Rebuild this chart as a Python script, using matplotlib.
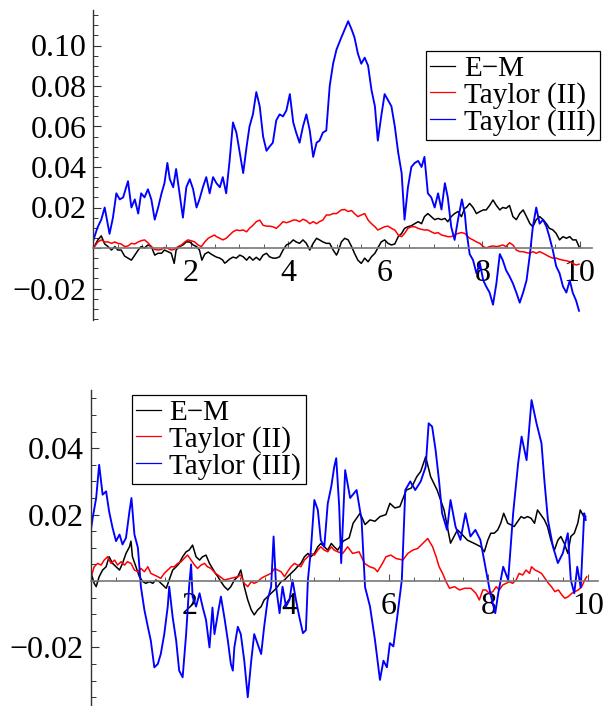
import matplotlib
matplotlib.use("Agg")
import matplotlib.pyplot as plt
from matplotlib.ticker import MultipleLocator, FuncFormatter, FixedLocator

plt.rcParams['font.family'] = ['Liberation Serif', 'DejaVu Serif']
plt.rcParams['mathtext.fontset'] = 'stix'

labels = ["E\u2212M", "Taylor (II)", "Taylor (III)"]
colors = ["black", "red", "blue"]

# ---------------- top panel ----------------
top_em_t = [0, 0.09, 0.16, 0.23, 0.30, 0.37, 0.44, 0.50, 0.57, 0.64, 0.71, 0.78, 0.85, 0.92, 0.98, 1.05, 1.12, 1.19, 1.26, 1.33,
            1.40, 1.46, 1.53, 1.60, 1.66, 1.70, 1.77, 1.84, 1.91, 1.98, 2.05, 2.12, 2.18, 2.23, 2.29, 2.36, 2.42, 2.49, 2.53, 2.60,
            2.66, 2.70, 2.73, 2.80, 2.87, 2.94, 3.01, 3.08, 3.15, 3.21, 3.28, 3.35, 3.42, 3.49, 3.56, 3.62, 3.69, 3.76, 3.83, 3.90,
            3.97, 4.04, 4.11, 4.17, 4.24, 4.31, 4.38, 4.45, 4.52, 4.59, 4.65, 4.72, 4.79, 4.86, 4.93, 5.00, 5.03, 5.10, 5.17, 5.24,
            5.31, 5.37, 5.44, 5.51, 5.58, 5.65, 5.72, 5.79, 5.85, 5.92, 5.99, 6.06, 6.13, 6.20, 6.27, 6.34, 6.40, 6.47, 6.54, 6.61,
            6.68, 6.75, 6.81, 6.88, 6.95, 7.02, 7.09, 7.16, 7.23, 7.29, 7.36, 7.43, 7.50, 7.57, 7.64, 7.67, 7.74, 7.81, 7.88, 7.95,
            8.02, 8.08, 8.15, 8.22, 8.29, 8.36, 8.42, 8.49, 8.56, 8.63, 8.70, 8.77, 8.84, 8.91, 8.98, 9.04, 9.11, 9.18, 9.25, 9.32,
            9.38, 9.45, 9.52, 9.59, 9.66, 9.73, 9.80, 9.86, 9.93, 9.99]
top_em_v = [0, 0.004, 0.006, 0.002, 0.0007, -0.001, 0.0007, -0.001, -0.001, -0.004, -0.005, -0.006, -0.0035, -0.001, 0.0007, 0, 0.0015, 0.0007, -0.0035, -0.0026,
            -0.0026, -0.001, -0.0018, -0.0026, -0.0076, -0.001, 0.0007, 0.0015, 0.003, 0.003, 0.0015, 0.0007, -0.001, -0.006, -0.003, -0.002, -0.003, -0.004, -0.0045, -0.005,
            -0.006, -0.0075, -0.007, -0.0055, -0.0045, -0.005, -0.0035, -0.0043, -0.006, -0.0043, -0.006, -0.0046, -0.006, -0.0035, -0.0026, -0.0043, -0.005, -0.005, -0.0043, -0.001,
            0.0015, 0.0023, 0.004, 0.003, 0.0023, 0.004, 0.0023, -0.001, 0.0023, 0.0048, 0.004, 0.003, 0.0023, 0.0023, -0.001, -0.0035, -0.002, 0.003, 0.0048, 0.004,
            0.0007, -0.0026, -0.006, -0.0076, -0.005, -0.0068, -0.0043, -0.0026, 0, 0.003, 0.004, 0.0023, 0.0015, 0.002, 0.0056, 0.0072, 0.0097, 0.0105, 0.011, 0.012,
            0.013, 0.012, 0.0155, 0.017, 0.0155, 0.014, 0.0146, 0.014, 0.0146, 0.013, 0.0155, 0.017, 0.018, 0.0155, 0.0196, 0.020, 0.022, 0.020, 0.017, 0.018,
            0.0188, 0.0188, 0.021, 0.0237, 0.021, 0.0188, 0.020, 0.0196, 0.021, 0.0155, 0.014, 0.017, 0.0188, 0.0155, 0.012, 0.0105, 0.014, 0.0155, 0.014, 0.012,
            0.0097, 0.009, 0.0072, 0.004, 0.0056, 0.0048, 0.0056, 0.004, 0.004, 0.0007]

top_t2_t = [0, 0.09, 0.16, 0.23, 0.30, 0.37, 0.44, 0.50, 0.57, 0.64, 0.71, 0.78, 0.85, 0.92, 0.98, 1.05, 1.12, 1.19, 1.26, 1.33,
            1.40, 1.46, 1.53, 1.60, 1.66, 1.74, 1.81, 1.88, 1.94, 2.01, 2.08, 2.15, 2.22, 2.29, 2.36, 2.42, 2.49, 2.53, 2.60, 2.66,
            2.73, 2.80, 2.87, 2.94, 3.01, 3.08, 3.15, 3.21, 3.28, 3.35, 3.42, 3.49, 3.56, 3.62, 3.69, 3.76, 3.83, 3.90, 3.97, 4.04,
            4.11, 4.17, 4.24, 4.31, 4.38, 4.45, 4.52, 4.59, 4.65, 4.72, 4.79, 4.86, 4.93, 5.00, 5.10, 5.17, 5.24, 5.31, 5.37, 5.44,
            5.51, 5.58, 5.65, 5.72, 5.79, 5.85, 5.92, 5.99, 6.06, 6.13, 6.20, 6.27, 6.34, 6.40, 6.47, 6.54, 6.61, 6.68, 6.75, 6.81,
            6.88, 6.95, 7.02, 7.09, 7.16, 7.23, 7.29, 7.36, 7.43, 7.50, 7.57, 7.64, 7.67, 7.74, 7.81, 7.88, 7.95, 8.02, 8.08, 8.15,
            8.22, 8.29, 8.36, 8.42, 8.49, 8.56, 8.63, 8.70, 8.77, 8.84, 8.91, 8.98, 9.04, 9.11, 9.18, 9.25, 9.32, 9.38, 9.45, 9.52,
            9.59, 9.66, 9.73, 9.80, 9.86, 9.93, 9.99]
top_t2_v = [0, 0.003, 0.004, 0.003, 0.003, 0.0023, 0.003, 0.0023, 0.002, 0.0007, 0.001, 0.0023, 0.002, 0.003, 0.0036, 0.004, 0.0026, 0.0007, -0.0007, -0.001,
            -0.0007, 0.0003, -0.0002, -0.001, -0.0007, 0.0007, 0.0015, 0.003, 0.004, 0.0036, 0.003, 0.0015, 0.0007, 0.003, 0.0048, 0.0056, 0.0064, 0.0056, 0.0048, 0.004,
            0.0048, 0.0064, 0.008, 0.0089, 0.0086, 0.0089, 0.008, 0.0097, 0.0112, 0.013, 0.0138, 0.0112, 0.0108, 0.0108, 0.0105, 0.0097, 0.0112, 0.013, 0.0125, 0.013,
            0.0138, 0.0138, 0.013, 0.0142, 0.0135, 0.012, 0.013, 0.012, 0.013, 0.0138, 0.0163, 0.0163, 0.017, 0.017, 0.0188, 0.019, 0.018, 0.0185, 0.017, 0.0155,
            0.0163, 0.017, 0.0138, 0.012, 0.0105, 0.0089, 0.0097, 0.0105, 0.0108, 0.0097, 0.0089, 0.0064, 0.0056, 0.0072, 0.0097, 0.0105, 0.0105, 0.0097, 0.0092, 0.0089,
            0.0089, 0.008, 0.0072, 0.0076, 0.0064, 0.006, 0.0056, 0.0056, 0.0064, 0.0072, 0.0076, 0.0072, 0.0064, 0.0048, 0.004, 0.003, 0.0023, 0.0007, 0, 0.0007,
            0.001, 0.0007, 0.001, 0.0015, 0.0007, 0.0026, 0.0015, -0.001, -0.0018, -0.0018, -0.0023, -0.0026, -0.0018, -0.0026, -0.0018, -0.0026, -0.0035, -0.0043, -0.005, -0.005,
            -0.0056, -0.006, -0.0063, -0.0068, -0.0076, -0.0084, -0.008]

top_t3_t = [0, 0.08, 0.16, 0.23, 0.33, 0.40, 0.47, 0.54, 0.61, 0.71, 0.78, 0.85, 0.92, 0.98, 1.05, 1.12, 1.19, 1.26, 1.33, 1.40,
            1.46, 1.52, 1.57, 1.64, 1.70, 1.77, 1.84, 1.91, 1.98, 2.05, 2.12, 2.18, 2.25, 2.32, 2.39, 2.46, 2.53, 2.60, 2.66, 2.73,
            2.80, 2.87, 2.94, 3.01, 3.08, 3.15, 3.21, 3.28, 3.35, 3.42, 3.49, 3.56, 3.62, 3.69, 3.76, 3.83, 3.90, 3.97, 4.04, 4.11,
            4.17, 4.24, 4.31, 4.38, 4.45, 4.52, 4.59, 4.65, 4.72, 4.79, 4.86, 4.93, 5.00, 5.10, 5.17, 5.24, 5.31, 5.37, 5.44, 5.51,
            5.58, 5.65, 5.72, 5.79, 5.85, 5.92, 5.99, 6.06, 6.13, 6.20, 6.27, 6.34, 6.40, 6.47, 6.54, 6.61, 6.68, 6.75, 6.81, 6.88,
            6.95, 7.02, 7.09, 7.16, 7.23, 7.29, 7.36, 7.43, 7.50, 7.58, 7.64, 7.67, 7.74, 7.81, 7.88, 7.95, 8.02, 8.08, 8.15, 8.22,
            8.29, 8.36, 8.42, 8.49, 8.56, 8.63, 8.70, 8.77, 8.84, 8.91, 8.98, 9.04, 9.11, 9.18, 9.25, 9.32, 9.38, 9.45, 9.52, 9.59,
            9.66, 9.73, 9.80, 9.86, 9.93, 9.99]
top_t3_v = [0.004, 0.010, 0.014, 0.020, 0.007, 0.015, 0.027, 0.024, 0.025, 0.033, 0.020, 0.024, 0.017, 0.027, 0.025, 0.029, 0.024, 0.014, 0.020, 0.027,
            0.032, 0.042, 0.034, 0.030, 0.039, 0.027, 0.015, 0.030, 0.034, 0.029, 0.020, 0.024, 0.030, 0.035, 0.027, 0.035, 0.032, 0.030, 0.035, 0.027,
            0.043, 0.062, 0.057, 0.047, 0.037, 0.050, 0.060, 0.066, 0.077, 0.070, 0.055, 0.048, 0.050, 0.052, 0.063, 0.066, 0.065, 0.068, 0.076, 0.062,
            0.057, 0.052, 0.060, 0.066, 0.058, 0.045, 0.052, 0.053, 0.057, 0.058, 0.080, 0.091, 0.098, 0.104, 0.108, 0.112, 0.108, 0.104, 0.096, 0.091,
            0.094, 0.090, 0.078, 0.070, 0.053, 0.065, 0.076, 0.073, 0.070, 0.060, 0.047, 0.037, 0.014, 0.030, 0.040, 0.042, 0.043, 0.040, 0.045, 0.027,
            0.025, 0.020, 0.027, 0.019, 0.032, 0.025, 0.0105, 0.004, 0.014, 0.024, 0.017, 0.009, -0.003, -0.006, -0.0125, -0.0076, -0.016, -0.019, -0.022, -0.028,
            -0.0175, -0.003, -0.006, -0.011, -0.014, -0.0175, -0.022, -0.027, -0.022, -0.016, -0.003, 0.0105, 0.020, 0.012, 0.014, 0.0105, 0.0056, -0.001, -0.009, -0.0125,
            -0.019, -0.022, -0.016, -0.022, -0.026, -0.031]

# ---------------- bottom panel ----------------
bot_em_t = [0.01, 0.07, 0.11, 0.17, 0.24, 0.31, 0.37, 0.44, 0.51, 0.58, 0.64, 0.71, 0.78, 0.81, 0.84, 0.91, 0.98, 1.05, 1.11, 1.18,
            1.25, 1.31, 1.38, 1.45, 1.52, 1.58, 1.65, 1.72, 1.78, 1.85, 1.92, 1.98, 2.05, 2.12, 2.19, 2.25, 2.32, 2.39, 2.45, 2.51,
            2.56, 2.62, 2.69, 2.76, 2.82, 2.89, 2.96, 3.02, 3.09, 3.16, 3.23, 3.29, 3.36, 3.43, 3.49, 3.56, 3.63, 3.70, 3.76, 3.83,
            3.90, 3.96, 4.03, 4.10, 4.16, 4.23, 4.30, 4.37, 4.43, 4.50, 4.57, 4.63, 4.70, 4.77, 4.84, 4.90, 4.97, 5.08, 5.20, 5.28,
            5.42, 5.52, 5.62, 5.72, 5.82, 5.94, 6.02, 6.12, 6.22, 6.35, 6.45, 6.56, 6.64, 6.74, 6.84, 6.97, 7.11, 7.24, 7.38, 7.45,
            7.58, 7.72, 7.85, 7.92, 7.99, 8.05, 8.12, 8.19, 8.25, 8.31, 8.39, 8.46, 8.52, 8.59, 8.66, 8.72, 8.79, 8.86, 8.93, 8.99,
            9.06, 9.13, 9.19, 9.26, 9.33, 9.40, 9.46, 9.53, 9.60, 9.66, 9.73, 9.80, 9.85, 9.92, 9.96]
bot_em_v = [0.0023, -0.0007, -0.0017, 0.0013, 0.0033, 0.0043, 0.0073, 0.0053, 0.0043, 0.0033, 0.0053, 0.0083, 0.0103, 0.012, 0.0073, 0.0043, 0.0013, -0.0002, -0.0007, -0.0002,
            -0.0007, 0.0003, -0.0002, -0.0012, -0.0022, 0.0003, 0.0033, 0.0043, 0.0053, 0.0073, 0.0088, 0.0093, 0.0108, 0.0073, 0.0063, 0.0073, 0.0078, 0.0053, 0.0038, 0.0023,
            0.0013, -0.0002, -0.0017, -0.0027, -0.0017, 0.0003, 0.0013, 0.0033, -0.0017, -0.0057, -0.0087, -0.0102, -0.0087, -0.0077, -0.0057, -0.0047, -0.0037, -0.0027, -0.0017, -0.0002,
            0.0003, 0.0013, 0.0023, 0.0033, 0.0043, 0.0053, 0.0073, 0.0083, 0.0073, 0.0083, 0.0103, 0.0113, 0.0103, 0.0093, 0.0113, 0.0103, 0.0093, 0.012, 0.013, 0.0174,
            0.0204, 0.017, 0.0184, 0.018, 0.0194, 0.020, 0.0234, 0.022, 0.0224, 0.0274, 0.028, 0.0314, 0.033, 0.0374, 0.0314, 0.0274, 0.0214, 0.0114, 0.0154, 0.0144,
            0.0123, 0.0113, 0.0103, 0.0088, 0.0123, 0.0144, 0.0144, 0.0154, 0.0174, 0.0204, 0.0174, 0.0169, 0.0164, 0.0179, 0.0194, 0.0189, 0.0194, 0.0189, 0.0174, 0.0214,
            0.0199, 0.0184, 0.0164, 0.0123, 0.0093, 0.0123, 0.0134, 0.0113, 0.0083, 0.0134, 0.0144, 0.0174, 0.0214, 0.0194, 0.0194]

bot_t2_t = [0.01, 0.07, 0.14, 0.21, 0.27, 0.34, 0.41, 0.48, 0.54, 0.61, 0.68, 0.74, 0.81, 0.88, 0.95, 1.01, 1.08, 1.15, 1.21, 1.28,
            1.35, 1.41, 1.48, 1.55, 1.62, 1.68, 1.75, 1.82, 1.88, 1.95, 2.02, 2.09, 2.15, 2.22, 2.29, 2.35, 2.42, 2.51, 2.56, 2.69,
            2.82, 2.96, 3.02, 3.09, 3.16, 3.23, 3.29, 3.36, 3.43, 3.49, 3.56, 3.63, 3.70, 3.76, 3.83, 3.90, 3.96, 4.03, 4.10, 4.16,
            4.23, 4.30, 4.37, 4.43, 4.50, 4.57, 4.63, 4.70, 4.77, 4.84, 4.90, 4.97, 5.07, 5.17, 5.27, 5.40, 5.51, 5.61, 5.71, 5.77,
            5.87, 5.94, 6.04, 6.14, 6.28, 6.38, 6.48, 6.58, 6.68, 6.78, 6.88, 6.95, 7.01, 7.08, 7.15, 7.22, 7.32, 7.42, 7.52, 7.65,
            7.75, 7.82, 7.89, 7.95, 8.02, 8.09, 8.16, 8.22, 8.29, 8.36, 8.42, 8.49, 8.56, 8.62, 8.69, 8.76, 8.83, 8.87, 8.94, 9.01,
            9.07, 9.14, 9.21, 9.27, 9.34, 9.41, 9.48, 9.54, 9.61, 9.68, 9.74, 9.81, 9.88, 9.94, 9.98]
bot_t2_v = [0.0013, 0.0043, 0.0053, 0.0048, 0.0063, 0.0073, 0.0053, 0.0063, 0.0048, 0.0058, 0.0048, 0.0058, 0.0053, 0.0033, 0.0028, 0.0038, 0.0028, 0.0043, 0.0023, 0.0018,
            0.0013, 0.0008, 0.0023, 0.0033, 0.0043, 0.0043, 0.0053, 0.0058, 0.0068, 0.0078, 0.0063, 0.0048, 0.0038, 0.0048, 0.0053, 0.0043, 0.0038, 0.0023, 0.0018, 0.0003,
            0.0008, 0.0013, 0.0018, -0.0007, -0.0017, -0.0002, -0.0007, -0.0002, 0.0008, 0.0013, 0.0018, 0.0023, 0.0038, 0.0033, 0.0028, 0.0013, 0.0028, 0.0043, 0.0053, 0.0048,
            0.0043, 0.0063, 0.0073, 0.0083, 0.0078, 0.0093, 0.0103, 0.0093, 0.0088, 0.0103, 0.0093, 0.0088, 0.0083, 0.0103, 0.0083, 0.0088, 0.0053, 0.0043, 0.0038, 0.0028,
            0.0053, 0.0073, 0.0078, 0.0068, 0.0063, 0.0083, 0.0093, 0.0098, 0.0113, 0.0128, 0.0103, 0.0073, 0.0043, 0.0023, -0.0002, -0.0022, -0.0017, -0.0027, -0.0022, -0.0022,
            -0.0037, -0.0057, -0.0027, -0.0027, -0.0037, -0.0032, -0.0017, -0.0027, -0.0012, -0.0007, -0.0002, -0.0007, 0.0003, 0.0023, 0.0018, 0.0033, 0.0023, 0.0043, 0.0033, 0.0028,
            0.0023, 0.0008, -0.0007, -0.0017, -0.0032, -0.0027, -0.0042, -0.0052, -0.0047, -0.0037, -0.0032, -0.0027, -0.0017, 0.0003, 0.0013]

bot_t3_t = [0.00, 0.04, 0.11, 0.17, 0.24, 0.31, 0.37, 0.44, 0.51, 0.58, 0.64, 0.71, 0.78, 0.82, 0.88, 0.95, 1.01, 1.08, 1.15, 1.21,
            1.28, 1.35, 1.41, 1.48, 1.55, 1.58, 1.65, 1.72, 1.78, 1.85, 1.92, 1.98, 2.02, 2.05, 2.12, 2.19, 2.25, 2.32, 2.39, 2.45,
            2.49, 2.56, 2.62, 2.69, 2.76, 2.82, 2.86, 2.89, 2.96, 3.02, 3.09, 3.16, 3.23, 3.29, 3.36, 3.43, 3.49, 3.56, 3.63, 3.68,
            3.73, 3.80, 3.86, 3.93, 4.00, 4.06, 4.13, 4.20, 4.27, 4.33, 4.37, 4.43, 4.50, 4.57, 4.63, 4.70, 4.77, 4.84, 4.90, 4.94,
            5.00, 5.04, 5.12, 5.22, 5.35, 5.45, 5.52, 5.62, 5.72, 5.82, 5.89, 5.96, 6.02, 6.09, 6.16, 6.26, 6.33, 6.43, 6.53, 6.64,
            6.74, 6.80, 6.87, 6.94, 7.01, 7.07, 7.17, 7.24, 7.34, 7.44, 7.54, 7.64, 7.74, 7.84, 7.94, 8.04, 8.14, 8.20, 8.30, 8.40,
            8.50, 8.60, 8.67, 8.77, 8.87, 8.97, 9.07, 9.13, 9.20, 9.30, 9.40, 9.50, 9.60, 9.66, 9.73, 9.79, 9.86, 9.93, 9.96]
bot_t3_v = [0.015, 0.019, 0.025, 0.035, 0.026, 0.027, 0.021, 0.016, 0.012, 0.014, 0.011, 0.013, 0.021, 0.025, 0.014, 0.010, -0.0017, -0.0087, -0.0138, -0.018,
            -0.026, -0.025, -0.022, -0.016, -0.0077, -0.0017, -0.011, -0.018, -0.027, -0.029, -0.016, -0.0017, 0.005, -0.0047, -0.0077, -0.0037, -0.0077, -0.0117, -0.020, -0.008,
            -0.016, -0.0097, -0.0047, -0.011, -0.018, -0.025, -0.027, -0.020, -0.0138, -0.016, -0.024, -0.035, -0.024, -0.016, -0.019, -0.022, -0.0138, -0.0057, -0.0017, 0.0134,
            -0.0017, -0.0097, -0.0017, -0.0077, -0.0057, 0.0003, -0.0057, -0.011, -0.0157, -0.0148, 0.0003, 0.0093, 0.0244, 0.0214, 0.0123, 0.0103, 0.0234, 0.0284, 0.0344, 0.037,
            0.0224, 0.0054, 0.0334, 0.025, 0.0274, 0.0184, -0.0018, -0.0077, -0.0178, -0.0298, -0.024, -0.026, -0.0187, -0.0197, -0.0117, 0.0003, 0.0274, 0.030, 0.0274, 0.030,
            0.0344, 0.0475, 0.0465, 0.0394, 0.030, 0.0204, 0.0154, 0.0244, 0.0164, 0.0124, 0.0204, 0.0134, 0.0154, 0.0124, 0.0043, -0.0037, -0.0097, -0.0037, 0.0043, 0.0003,
            0.0204, 0.0354, 0.0435, 0.0364, 0.0545, 0.0475, 0.0415, 0.030, 0.0184, 0.0104, 0.0054, 0.0084, 0.0144, 0.0003, -0.0037, 0.0043, -0.002, 0.0204, 0.0184]

top_series = [(top_em_t, top_em_v), (top_t2_t, top_t2_v), (top_t3_t, top_t3_v)]
bot_series = [(bot_em_t, bot_em_v), (bot_t2_t, bot_t2_v), (bot_t3_t, bot_t3_v)]
line_widths = [1.1, 1.1, 1.35]

W, H = 603, 706
fig = plt.figure(figsize=(W / 100, H / 100), dpi=100)

def yfmt(v, pos):
    if abs(v) < 1e-9:
        return ""
    return f"{v:.2f}".replace("-", "\u2212")

def xfmt(v, pos):
    if abs(v) < 1e-9:
        return ""
    return f"{v:.0f}"

def style(ax, ylo, yhi, xhi):
    ax.set_xlim(0, xhi)
    ax.set_ylim(ylo, yhi)
    for s in ("top", "right"):
        ax.spines[s].set_visible(False)
    ax.spines["left"].set_position(("data", 0))
    ax.spines["bottom"].set_position(("data", 0))
    ax.spines["left"].set_color("#333333")
    ax.spines["bottom"].set_color("#777777")
    ax.spines["left"].set_linewidth(1.0)
    ax.spines["bottom"].set_linewidth(1.2)
    ax.patch.set_alpha(0)
    ax.xaxis.set_major_locator(FixedLocator([2, 4, 6, 8, 10]))
    ax.xaxis.set_minor_locator(MultipleLocator(0.5))
    ax.yaxis.set_major_locator(MultipleLocator(0.02))
    ax.yaxis.set_minor_locator(MultipleLocator(0.005))
    ax.yaxis.set_major_formatter(FuncFormatter(yfmt))
    ax.xaxis.set_major_formatter(FuncFormatter(xfmt))
    ax.tick_params(axis="y", which="major", direction="in", length=6, width=0.8, labelsize=23, pad=5, color="#333333")
    ax.tick_params(axis="y", which="minor", direction="in", length=3.5, width=0.7, color="#333333")
    ax.tick_params(axis="x", which="major", direction="in", length=5, width=0.8, labelsize=23, pad=8, color="#555555")
    ax.tick_params(axis="x", which="minor", direction="in", length=3, width=0.7, color="#555555")

# top axes
ax1 = fig.add_axes([93.5 / W, 1 - 320 / H, 10.25 * 48.6 / W, 310 / H])
for (t, v), c, lab, lw in zip(top_series, colors, labels, line_widths):
    ax1.plot(t, v, color=c, lw=lw, label=lab)
style(ax1, -(320 - 248) / 2025, (248 - 10) / 2025, 10.25)
leg1 = ax1.legend(loc="upper left", bbox_to_anchor=(426 / W, 1 - 51 / H), bbox_transform=fig.transFigure,
                  fontsize=21, frameon=True, fancybox=False, edgecolor="black", framealpha=1,
                  handlelength=0.85, handletextpad=0.3, labelspacing=0.0, borderpad=0.15, borderaxespad=0)
leg1.get_frame().set_linewidth(0.9)
for h in leg1.get_lines():
    h.set_linewidth(0.9)

# bottom axes
ax2 = fig.add_axes([90.7 / W, 0, 10.2 * 49.7 / W, 316 / H])
for (t, v), c, lab, lw in zip(bot_series, colors, labels, line_widths):
    ax2.plot(t, v, color=c, lw=lw, label=lab)
style(ax2, -(706 - 581) / 3320, (581 - 390) / 3320, 10.2)
leg2 = ax2.legend(loc="upper left", bbox_to_anchor=(131.5 / W, 1 - 395 / H), bbox_transform=fig.transFigure,
                  fontsize=21, frameon=True, fancybox=False, edgecolor="black", framealpha=1,
                  handlelength=0.85, handletextpad=0.3, labelspacing=0.0, borderpad=0.15, borderaxespad=0)
leg2.get_frame().set_linewidth(0.9)
for h in leg2.get_lines():
    h.set_linewidth(0.9)

fig.savefig("out.png", dpi=100)
